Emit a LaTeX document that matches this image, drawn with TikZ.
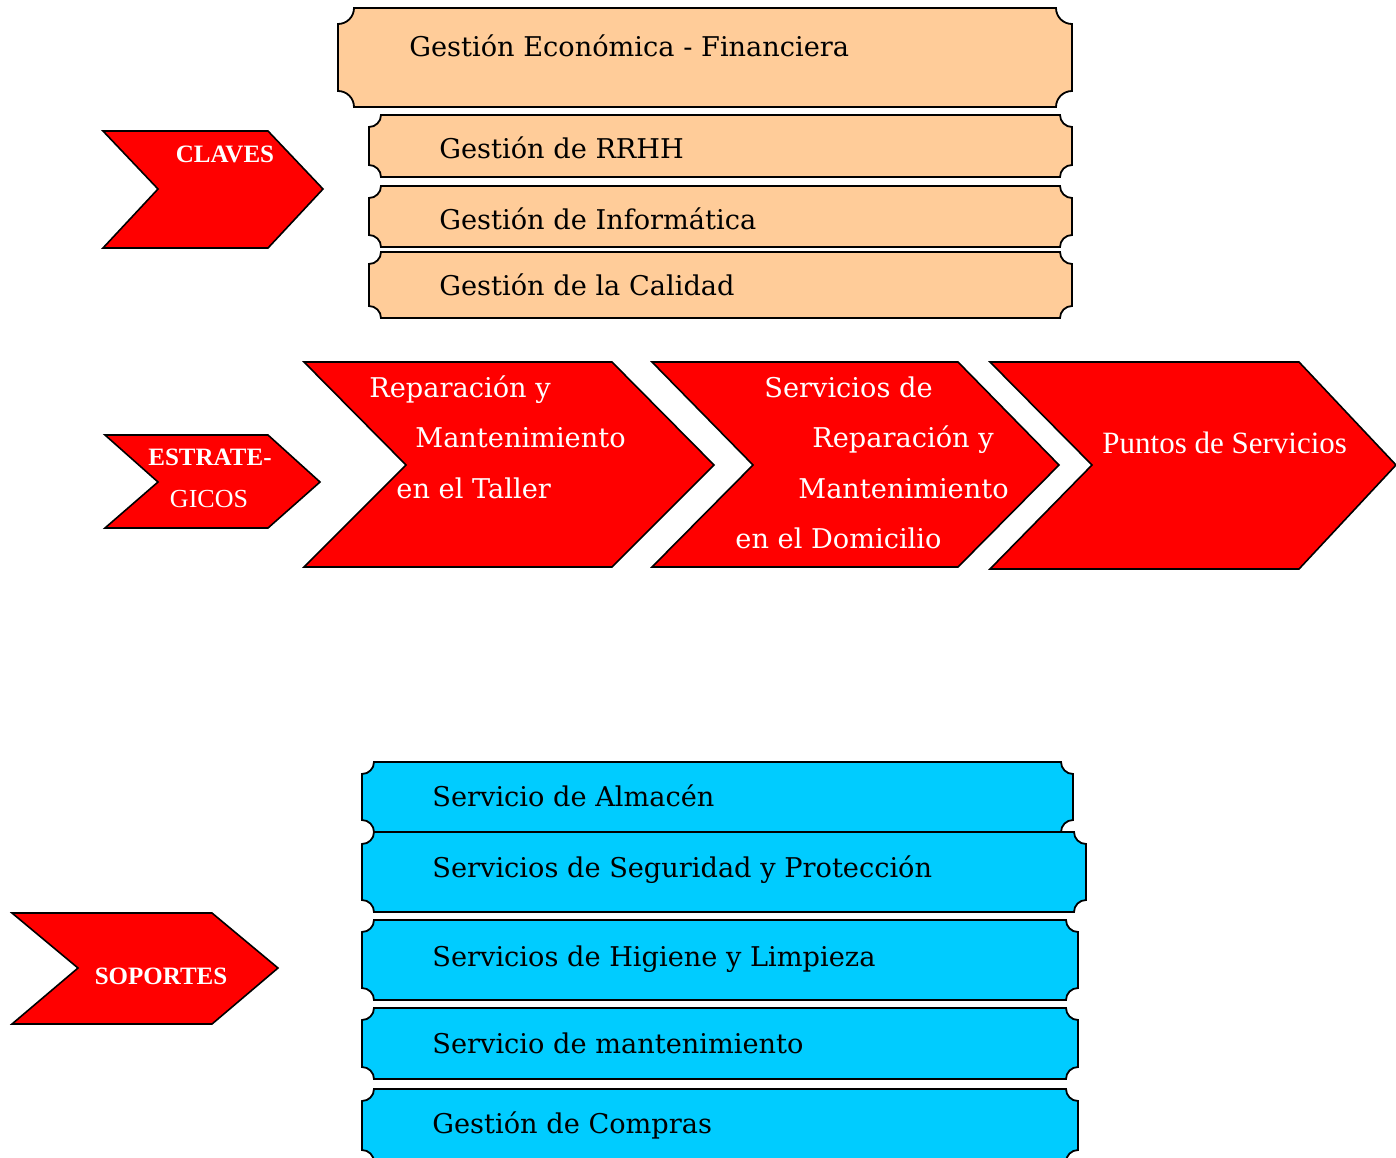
\documentclass[tikz,border=0pt]{standalone}
\usepackage{fontspec}
\setmainfont{DejaVu Serif}
\newfontfamily\tnr{Liberation Serif}
\definecolor{melocoton}{HTML}{FFCC99}
\definecolor{celeste}{HTML}{00CCFF}
\definecolor{rojo}{HTML}{FF0000}
\tikzset{
  clave/.style={draw=black, line width=0.9pt, fill=melocoton},
  soporte/.style={draw=black, line width=0.9pt, fill=celeste},
  flecha/.style={draw=black, line width=0.8pt, fill=rojo},
  txtplaca/.style={anchor=base west, inner sep=0pt, font=\fontsize{13.6}{16}\selectfont},
  txtflecha/.style={anchor=base west, inner sep=0pt, text=white, font=\fontsize{13.6}{16}\selectfont},
  txtetiqueta/.style={anchor=base, inner sep=0pt, text=white, font=\tnr\bfseries\fontsize{12.5}{14}\selectfont}
}
% placa con esquinas concavas: estilo, x1, y1, x2, y2, radio
\newcommand{\placa}[6]{%
  \pgfmathsetmacro\pk{0.552*#6}
  \draw[#1] (#2,#3+#6) .. controls (#2+\pk,#3+#6) and (#2+#6,#3+\pk) .. (#2+#6,#3)
    -- (#4-#6,#3) .. controls (#4-#6,#3+\pk) and (#4-\pk,#3+#6) .. (#4,#3+#6)
    -- (#4,#5-#6) .. controls (#4-\pk,#5-#6) and (#4-#6,#5-\pk) .. (#4-#6,#5)
    -- (#2+#6,#5) .. controls (#2+#6,#5-\pk) and (#2+\pk,#5-#6) .. (#2,#5-#6)
    -- cycle;}
\begin{document}
\begin{tikzpicture}[x=0.5pt, y=-0.5pt]
  \useasboundingbox (0,0) rectangle (1396,1157);

  % procesos claves
  \placa{clave}{338}{8}{1072}{107}{16}
  \placa{clave}{369}{115}{1072}{177}{12}
  \placa{clave}{369}{186}{1072}{247}{12}
  \placa{clave}{369}{252}{1072}{318}{12}
  \node[txtplaca] (c1) at (409,56) {Gestión Económica - Financiera};
  \node[txtplaca] (c2) at (439,158) {Gestión de RRHH};
  \node[txtplaca] (c3) at (439,229) {Gestión de Informática};
  \node[txtplaca] (c4) at (439,295) {Gestión de la Calidad};

  \draw[flecha] (103,131) -- (268,131) -- (323,189) -- (268,248) -- (103,248) -- (158,189) -- cycle;
  \node[txtetiqueta] (claves) at (225,162) {CLAVES};

  % procesos estrategicos
  \draw[flecha] (105,435) -- (268,435) -- (320,482) -- (268,528) -- (105,528) -- (158,482) -- cycle;
  \node[txtetiqueta] (estra) at (210,465) {ESTRATE-};
  \node[txtetiqueta, font=\tnr\fontsize{13}{15}\selectfont] (gicos) at (209,507) {GICOS};

  \draw[flecha] (304,362) -- (612,362) -- (714,465) -- (612,567) -- (304,567) -- (406,465) -- cycle;
  \draw[flecha] (652,362) -- (958,362) -- (1059,465) -- (958,567) -- (652,567) -- (753,465) -- cycle;
  \draw[flecha] (990,362) -- (1299,362) -- (1396,465) -- (1299,569) -- (990,569) -- (1092,465) -- cycle;
  \node[txtflecha] (e1a) at (369,397) {Reparación y};
  \node[txtflecha] (e1b) at (415,447) {Mantenimiento};
  \node[txtflecha] (e1c) at (396,498) {en el Taller};
  \node[txtflecha] (e2a) at (764,397) {Servicios de};
  \node[txtflecha] (e2b) at (812,447) {Reparación y};
  \node[txtflecha] (e2c) at (798,498) {Mantenimiento};
  \node[txtflecha] (e2d) at (735,548) {en el Domicilio};
  \node[txtflecha, font=\tnr\fontsize{15.5}{18}\selectfont] (e3) at (1102,453) {Puntos de Servicios};

  % procesos de soporte
  \placa{soporte}{362}{762}{1073}{832}{12}
  \placa{soporte}{362}{832}{1086}{912}{12}
  \placa{soporte}{362}{920}{1078}{1000}{12}
  \placa{soporte}{362}{1008}{1078}{1079}{12}
  \placa{soporte}{362}{1089}{1078}{1162}{12}
  \node[txtplaca] (s1) at (432,806) {Servicio de Almacén};
  \node[txtplaca] (s2) at (432,877) {Servicios de Seguridad y Protección};
  \node[txtplaca] (s3) at (432,966) {Servicios de Higiene y Limpieza};
  \node[txtplaca] (s4) at (432,1053) {Servicio de mantenimiento};
  \node[txtplaca] (s5) at (432,1133) {Gestión de Compras};

  \draw[flecha] (12,913) -- (212,913) -- (278,968) -- (212,1024) -- (12,1024) -- (78,968) -- cycle;
  \node[txtetiqueta] (soportes) at (161,984) {SOPORTES};
\end{tikzpicture}
\end{document}
